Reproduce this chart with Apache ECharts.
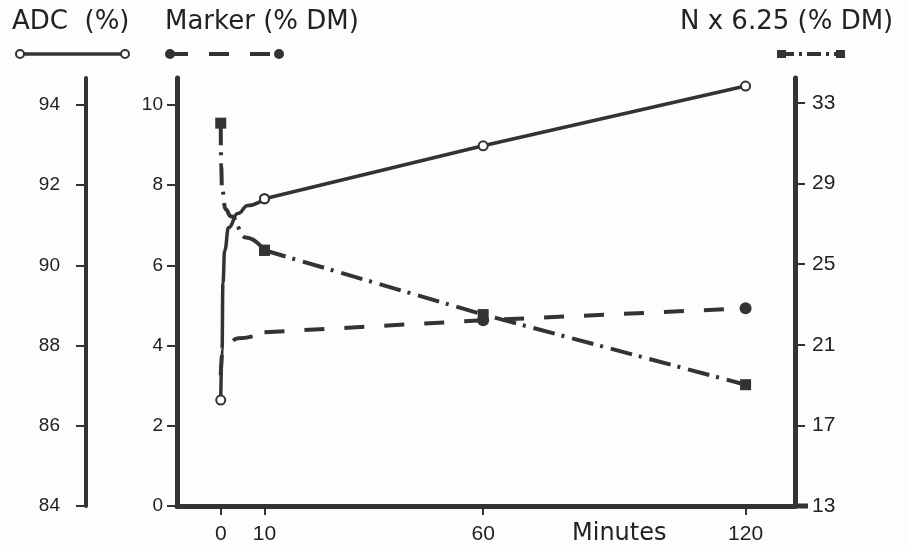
<!DOCTYPE html>
<html>
<head>
<meta charset="utf-8">
<script src="https://cdn.jsdelivr.net/npm/echarts@6/dist/echarts.min.js"></script>
<style>
  html, body { margin: 0; padding: 0; background: #fdfdfd; }
  #chart { width: 909px; height: 550px; }
</style>
</head>
<body>
<div id="chart"></div>
<script>
// sampling times and tick labels
const xTicks = [0, 10, 60, 120];
const adcTicks = [84, 86, 88, 90, 92, 94];
const markerTicks = [0, 2, 4, 6, 8, 10];
const nTicks = [13, 17, 21, 25, 29, 33];

// ADC (%) - solid line, open circles
const adcMinutes = [0, 0.3, 0.5, 0.9, 1.8, 3.9, 6.2, 10, 60, 120];
const adcValues = [86.64, 87.9, 89.55, 90.37, 90.94, 91.29, 91.49, 91.66, 92.98, 94.47];
const adcMarked = [0, 10, 60, 120];

// Marker (% DM) - dashed line, filled circles
const markerMinutes = [0, 0.4, 1.5, 4, 10, 60, 120];
const markerValues = [3.26, 3.83, 4.05, 4.18, 4.33, 4.63, 4.93];
const markerMarked = [60, 120];

// N x 6.25 (% DM) - dash-dot line, squares
const nMinutes = [0, 0.1, 0.3, 1.1, 2.3, 5.7, 10, 60, 120];
const nValues = [32.0, 29.87, 28.72, 27.73, 27.38, 26.33, 25.69, 22.5, 19.02];
const nMarked = [0, 10, 60, 120];

const INK = '#333333';
const NUM_FONT = 'Liberation Sans';
const BREAK = 10; // curve is smoothed up to 10 min, straight after

function toData(mins, vals, marked, symbol, keep) {
  const out = [];
  mins.forEach((m, i) => {
    if (keep(m)) {
      out.push({ value: [m, vals[i]], symbol: marked.includes(m) ? symbol : 'none' });
    }
  });
  return out;
}

// one variable = early smoothed piece + straight piece
function makeSeries(name, yIdx, mins, vals, marked, symbol, size, lineStyle, itemStyle) {
  const base = {
    name: name,
    type: 'line',
    yAxisIndex: yIdx,
    showAllSymbol: true,
    symbolSize: size,
    lineStyle: lineStyle,
    itemStyle: itemStyle,
  };
  return [
    Object.assign({}, base, {
      smooth: 0.5,
      smoothMonotone: 'x',
      data: toData(mins, vals, marked, symbol, (m) => m <= BREAK),
    }),
    Object.assign({}, base, {
      smooth: false,
      data: toData(mins, vals, marked, symbol, (m) => m >= BREAK),
    }),
  ];
}

function yAxisBase(min, max, ticks, fontSize) {
  return {
    type: 'value',
    min: min,
    max: max,
    splitLine: { show: false },
    axisLine: { show: true, onZero: false, lineStyle: { color: INK, width: 5 } },
    axisTick: { show: true, customValues: ticks, length: 10, lineStyle: { color: INK, width: 2 } },
    axisLabel: { customValues: ticks, color: '#222', fontFamily: NUM_FONT, fontSize: fontSize },
  };
}

const chart = echarts.init(document.getElementById('chart'));

const markerAxis = yAxisBase(0, 10.67, markerTicks, 19);
markerAxis.position = 'left';
markerAxis.axisLabel.margin = 14;

const adcAxis = yAxisBase(84, 94.67, adcTicks, 19);
adcAxis.position = 'left';
adcAxis.offset = 91;
adcAxis.axisLine.lineStyle.width = 4;
adcAxis.axisLabel.margin = 26;

const nAxis = yAxisBase(13, 34.24, nTicks, 21);
nAxis.position = 'right';
nAxis.axisLabel.margin = 17;

chart.setOption({
  backgroundColor: '#fdfdfd',
  animation: false,
  grid: { left: 177, right: 114, top: 78, bottom: 44 },
  xAxis: {
    type: 'value',
    min: -10,
    max: 131.3,
    splitLine: { show: false },
    axisLine: { onZero: false, lineStyle: { color: INK, width: 5 } },
    axisTick: { customValues: xTicks, length: 9, lineStyle: { color: INK, width: 2 } },
    axisLabel: { customValues: xTicks, color: '#222', fontFamily: NUM_FONT, fontSize: 21, margin: 18 },
  },
  yAxis: [markerAxis, adcAxis, nAxis],
  series: [].concat(
    makeSeries('ADC (%)', 1, adcMinutes, adcValues, adcMarked, 'emptyCircle', 9,
      { color: INK, width: 3.5 }, { color: INK, borderWidth: 2 }),
    makeSeries('Marker (% DM)', 0, markerMinutes, markerValues, markerMarked, 'circle', 12,
      { color: INK, width: 4, type: [20, 20] }, { color: INK }),
    makeSeries('N x 6.25 (% DM)', 2, nMinutes, nValues, nMarked, 'rect', 11,
      { color: INK, width: 4, type: [22, 7, 3, 8] }, { color: INK })
  ),
  graphic: [
    { type: 'text', left: 12, top: 9, style: { text: 'ADC  (%)', fill: '#222', font: '26px "DejaVu Sans"' } },
    { type: 'text', left: 165, top: 9, style: { text: 'Marker (% DM)', fill: '#222', font: '26px "DejaVu Sans"' } },
    { type: 'text', left: 680, top: 9, style: { text: 'N x 6.25 (% DM)', fill: '#222', font: '26px "DejaVu Sans"' } },
    { type: 'text', left: 572, top: 522, style: { text: 'Minutes', fill: '#222', font: '24px "DejaVu Sans"' } },
    // legend keys
    { type: 'line', shape: { x1: 20, y1: 54, x2: 125, y2: 54 }, style: { stroke: INK, lineWidth: 3.5 } },
    { type: 'circle', shape: { cx: 20, cy: 54, r: 4 }, style: { fill: '#fff', stroke: INK, lineWidth: 2 } },
    { type: 'circle', shape: { cx: 125, cy: 54, r: 4 }, style: { fill: '#fff', stroke: INK, lineWidth: 2 } },
    { type: 'line', shape: { x1: 168, y1: 54, x2: 280, y2: 54 }, style: { stroke: INK, lineWidth: 4, lineDash: [20, 21] } },
    { type: 'circle', shape: { cx: 170, cy: 54, r: 5 }, style: { fill: INK } },
    { type: 'circle', shape: { cx: 279, cy: 54, r: 5 }, style: { fill: INK } },
    { type: 'line', shape: { x1: 780, y1: 54, x2: 842, y2: 54 }, style: { stroke: INK, lineWidth: 4, lineDash: [14, 5, 3, 5] } },
    { type: 'rect', shape: { x: 777, y: 50, width: 9, height: 8 }, style: { fill: INK } },
    { type: 'rect', shape: { x: 836, y: 50, width: 9, height: 8 }, style: { fill: INK } },
    // x axis line runs a little past the right axis
    { type: 'line', shape: { x1: 795, y1: 506, x2: 808, y2: 506 }, style: { stroke: INK, lineWidth: 5 } },
  ],
});
</script>
</body>
</html>
